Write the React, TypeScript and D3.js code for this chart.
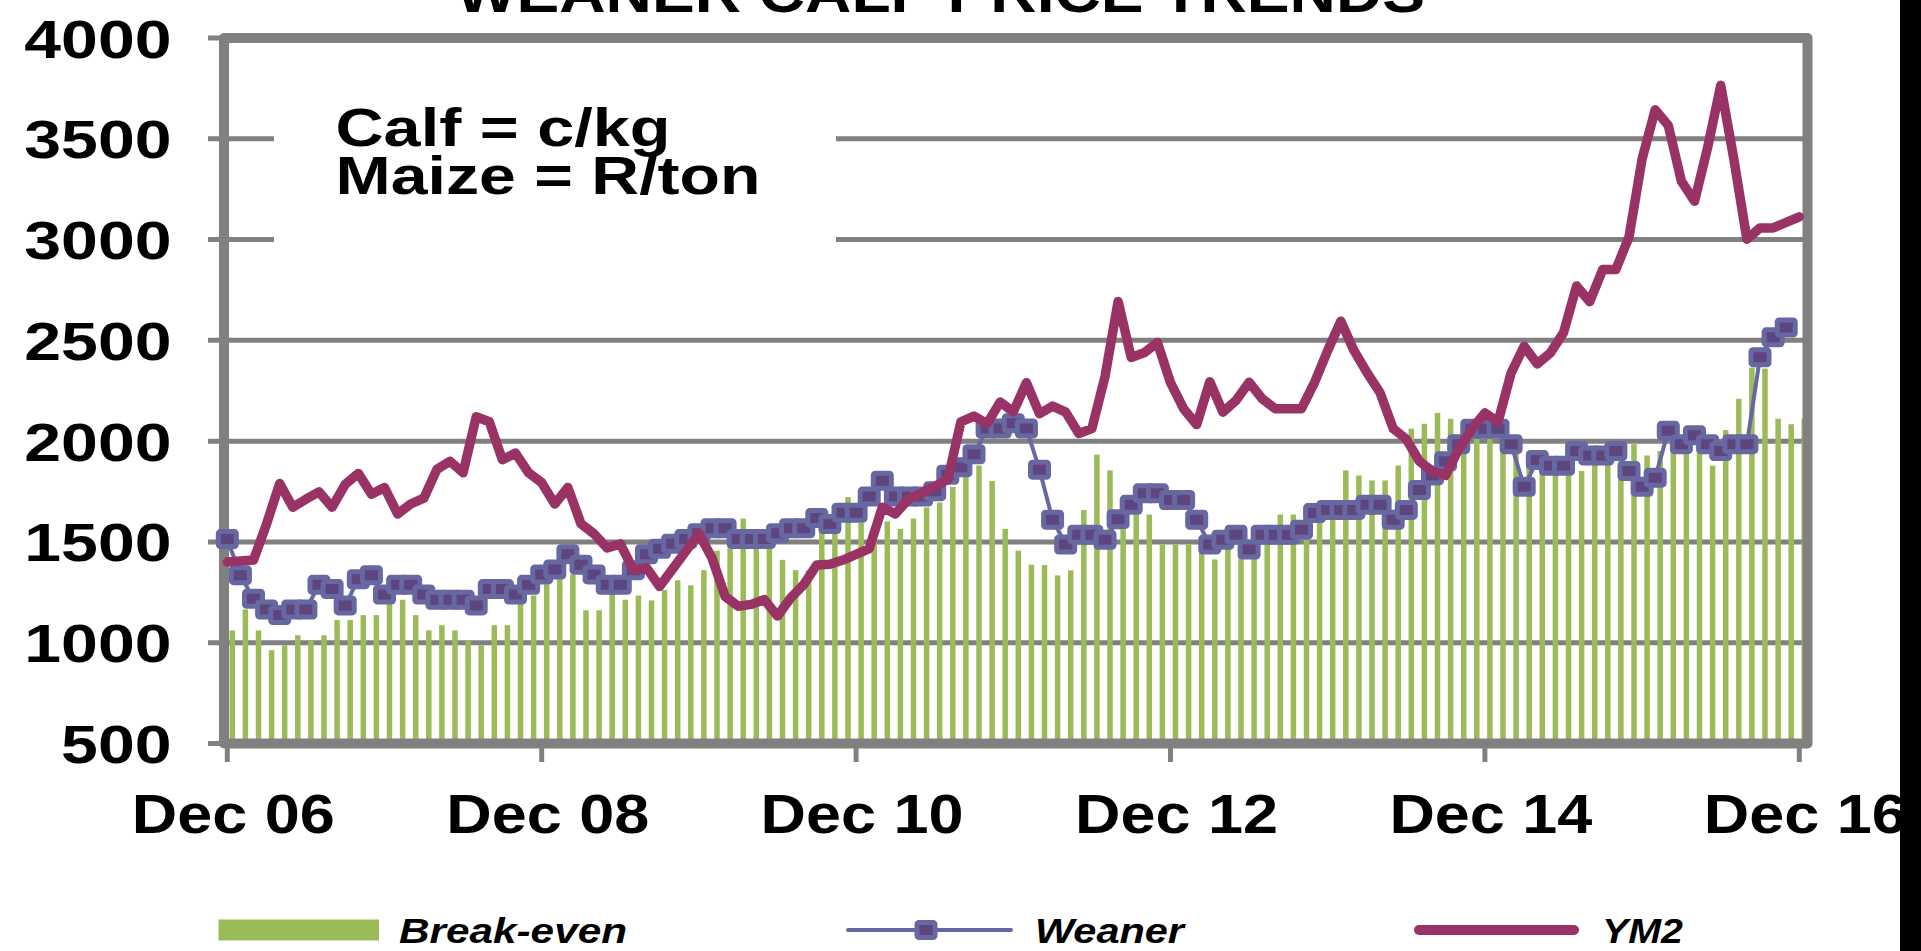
import React from "react";
import * as d3 from "d3";

// ---- data (monthly, Dec 06 .. Dec 16) ----
const yTicks = [500, 1000, 1500, 2000, 2500, 3000, 3500, 4000];
const xTickLabels = ["Dec 06", "Dec 08", "Dec 10", "Dec 12", "Dec 14", "Dec 16"];
const xTickIndex = [0, 24, 48, 72, 96, 120];

const breakEven = [
  1061, 1165, 1061, 963, 987, 1037, 1011, 1037, 1113, 1113, 1137, 1137, 1194, 1213, 1137, 1061, 1087, 1061, 1011, 987,
  1087, 1087, 1194, 1234, 1290, 1315, 1339, 1161, 1161, 1242, 1213,
  1234, 1210, 1261, 1310, 1285, 1360, 1457, 1468, 1616, 1517, 1517, 1411, 1360, 1360, 1551, 1551, 1722, 1594, 1565,
  1602, 1565, 1616, 1671, 1696, 1773, 1850, 1879, 1802, 1565, 1457, 1387,
  1385, 1334, 1359, 1658, 1933, 1855, 1563, 1653, 1636, 1487, 1487, 1487, 1462, 1413, 1470, 1430, 1470, 1487, 1636,
  1636, 1511, 1610, 1610, 1855, 1830, 1805, 1805, 1879, 2062, 2086, 2140,
  2111, 2029, 2073, 2029, 2029, 1985, 1896, 1896, 1896, 1962, 1852, 1940, 1962, 1985, 1985, 1929, 1951, 1985, 1985,
  1985, 1878, 2055, 2210, 2365, 2360, 2111, 2084, 2111,
];

const weaner = [
  1514, 1335, 1218, 1165, 1137, 1165, 1165, 1287, 1266, 1185, 1315, 1335, 1239, 1287, 1287, 1239, 1213, 1213, 1213, 1185,
  1266, 1266, 1239, 1287, 1339, 1363, 1439, 1387, 1339, 1287, 1287,
  1360, 1439, 1466, 1491, 1514, 1543, 1568, 1568, 1514, 1514, 1514, 1543, 1568, 1568, 1619, 1589, 1645, 1645, 1725,
  1804, 1725, 1725, 1725, 1752, 1833, 1870, 1935, 2063, 2063, 2089, 2063,
  1858, 1610, 1487, 1536, 1536, 1511, 1613, 1684, 1741, 1741, 1708, 1708, 1610, 1487, 1511, 1536, 1462, 1536, 1536,
  1536, 1561, 1643, 1659, 1659, 1659, 1684, 1684, 1610, 1659, 1757, 1830,
  1900, 1985, 2062, 2062, 2062, 1985, 1774, 1907, 1878, 1878, 1951, 1929, 1929, 1951, 1852, 1774, 1819, 2051, 1985,
  2029, 1985, 1951, 1985, 1985, 2416, 2515, 2564,
];

const ym2 = [
  1400, 1405, 1410, 1590, 1790, 1672, 1712, 1748, 1672, 1786, 1840, 1737, 1770, 1639, 1688, 1717, 1860, 1900, 1843, 2121,
  2096, 1908, 1941, 1843, 1794, 1688, 1770, 1590, 1540, 1470, 1490,
  1361, 1372, 1279, 1366, 1454, 1541, 1420, 1230, 1181, 1190, 1214, 1132, 1222, 1288, 1386, 1389, 1410, 1438, 1467,
  1672, 1639, 1712, 1742, 1775, 1810, 2096, 2124, 2087, 2194, 2145, 2290,
  2136, 2174, 2144, 2038, 2062, 2320, 2693, 2415, 2439, 2489, 2290, 2161, 2082, 2295, 2144, 2202, 2292, 2210, 2161,
  2161, 2161, 2292, 2450, 2595, 2450, 2340, 2240, 2062, 2010, 1900, 1850,
  1830, 1960, 2060, 2140, 2095, 2338, 2471, 2383, 2438, 2538, 2770, 2692, 2852, 2852, 3013, 3400, 3644, 3566, 3290,
  3190, 3456, 3765, 3400, 3002, 3058, 3058, 3085, 3113,
];

const titleText = "WEANER CALF PRICE TRENDS";
const noteLines = ["Calf = c/kg", "Maize = R/ton"];
const legendNames = ["Break-even", "Weaner", "YM2"];

// ---- styles ----
const FONT = "'Liberation Sans', Arial, Helvetica, sans-serif";
const GRAY = "#808080";
const GREEN = "#9BBB59";
const SLATE = "#6767A2";
const MARKER_FILL = "#5D467E";
const PLUM = "#993366";

export default function App() {
  const W = 1921;
  const H = 951;
  const left = 224;
  const right = 1807.5;
  const top = 38;
  const bottom = 743.5;

  const x = d3.scaleLinear().domain([0, 120]).range([227.3, 1799.3]);
  const y = d3.scaleLinear().domain([500, 4000]).range([bottom, top]);

  const lineGen = d3
    .line<number>()
    .x((_, i) => x(i))
    .y((d) => y(d));

  const barW = 5.5;
  const barOffset = 5;
  const mW = 18;
  const mH = 15;

  return (
    <svg
      width={W}
      height={H}
      style={{ position: "absolute", left: 0, top: 0, display: "block" }}
      fontFamily={FONT}
    >
      <rect x={0} y={0} width={W} height={H} fill="#ffffff" />

      {/* title (cut off at the top) */}
      <text
        x={456}
        y={11.5}
        fontSize={55}
        fontWeight="bold"
        textLength={969}
        lengthAdjust="spacingAndGlyphs"
        fill="#000"
      >
        {titleText}
      </text>

      {/* gridlines */}
      {yTicks.map((t) => (
        <line key={"g" + t} x1={208} x2={right} y1={y(t)} y2={y(t)} stroke={GRAY} strokeWidth={5} />
      ))}

      {/* white note box covering gridlines */}
      <rect x={274} y={70} width={562} height={220} fill="#ffffff" />
      {noteLines.map((s, k) => (
        <text
          key={s}
          x={335.5}
          y={145.5 + k * 48}
          fontSize={53}
          fontWeight="bold"
          textLength={k === 0 ? 335 : 425}
          lengthAdjust="spacingAndGlyphs"
          fill="#000"
        >
          {s}
        </text>
      ))}

      {/* break-even bars */}
      {breakEven.map((v, i) => (
        <rect
          key={"b" + i}
          x={x(i) + barOffset - barW / 2}
          y={y(v)}
          width={barW}
          height={y(500) - y(v)}
          fill={GREEN}
        />
      ))}

      {/* plot border / axes */}
      <rect
        x={left}
        y={top}
        width={right - left}
        height={bottom - top}
        fill="none"
        stroke={GRAY}
        strokeWidth={10}
        strokeLinejoin="round"
      />
      {xTickIndex.map((i) => (
        <line key={"xt" + i} x1={x(i)} x2={x(i)} y1={bottom} y2={762} stroke={GRAY} strokeWidth={5} />
      ))}

      {/* Weaner */}
      <path d={lineGen(weaner) || ""} fill="none" stroke={SLATE} strokeWidth={4} strokeLinejoin="round" />
      {weaner.map((v, i) => (
        <rect
          key={"m" + i}
          x={x(i) - mW / 2}
          y={y(v) - mH / 2}
          width={mW}
          height={mH}
          rx={2}
          fill={MARKER_FILL}
          stroke={SLATE}
          strokeWidth={5}
          strokeLinejoin="round"
        />
      ))}

      {/* YM2 */}
      <path
        d={lineGen(ym2) || ""}
        fill="none"
        stroke={PLUM}
        strokeWidth={9.5}
        strokeLinejoin="round"
        strokeLinecap="round"
      />

      {/* y labels */}
      {yTicks.map((t) => {
        const s = String(t);
        return (
          <text
            key={"yl" + t}
            x={171.5}
            y={y(t) + 19.5}
            textAnchor="end"
            fontSize={54.5}
            fontWeight="bold"
            textLength={s.length * 36.8}
            lengthAdjust="spacingAndGlyphs"
            fill="#000"
          >
            {s}
          </text>
        );
      })}

      {/* x labels */}
      {xTickIndex.map((i, k) => (
        <text
          key={"xl" + i}
          x={x(i) + 6 - 101.5}
          y={832.5}
          fontSize={55}
          fontWeight="bold"
          textLength={203}
          lengthAdjust="spacingAndGlyphs"
          fill="#000"
        >
          {xTickLabels[k]}
        </text>
      ))}

      {/* legend */}
      <rect x={218.5} y={919.5} width={160.5} height={21} fill={GREEN} />
      <text
        x={399}
        y={943}
        fontSize={35}
        fontWeight="bold"
        fontStyle="italic"
        textLength={228}
        lengthAdjust="spacingAndGlyphs"
        fill="#000"
      >
        {legendNames[0]}
      </text>
      <line x1={848} x2={1011} y1={930} y2={930} stroke={SLATE} strokeWidth={4} strokeLinecap="round" />
      <rect
        x={926 - mW / 2}
        y={930 - mH / 2}
        width={mW}
        height={mH}
        rx={2}
        fill={MARKER_FILL}
        stroke={SLATE}
        strokeWidth={5}
      />
      <text
        x={1035}
        y={943}
        fontSize={35}
        fontWeight="bold"
        fontStyle="italic"
        textLength={149}
        lengthAdjust="spacingAndGlyphs"
        fill="#000"
      >
        {legendNames[1]}
      </text>
      <line x1={1419} x2={1574} y1={930} y2={930} stroke={PLUM} strokeWidth={10} strokeLinecap="round" />
      <text
        x={1602}
        y={943}
        fontSize={35}
        fontWeight="bold"
        fontStyle="italic"
        textLength={81}
        lengthAdjust="spacingAndGlyphs"
        fill="#000"
      >
        {legendNames[2]}
      </text>

      {/* black stripe at right edge */}
      <rect x={1900} y={0} width={21} height={H} fill="#000" />
    </svg>
  );
}
